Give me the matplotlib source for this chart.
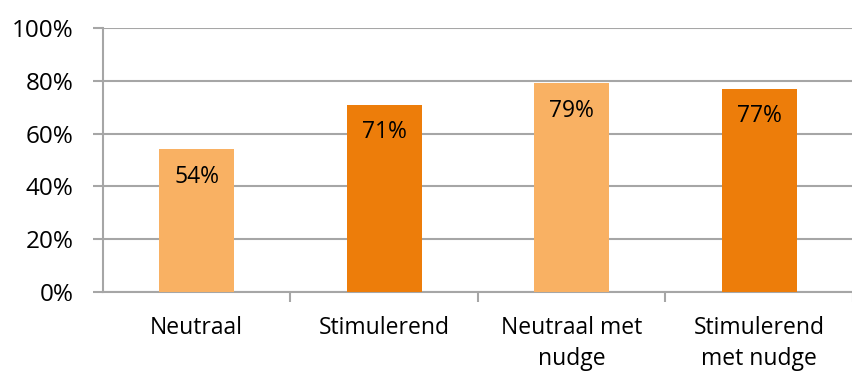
import matplotlib
matplotlib.use('Agg')
from matplotlib import pyplot as plt
from matplotlib.ticker import FuncFormatter

categories = ['Neutraal', 'Stimulerend', 'Neutraal met\nnudge', 'Stimulerend\nmet nudge']
values = [54, 71, 79, 77]
colors = ['#F9B163', '#ED7D0A', '#F9B163', '#ED7D0A']

plt.rcParams['font.family'] = ['Open Sans', 'DejaVu Sans']
grey = '#A6A6A6'

fig = plt.figure(figsize=(8.53, 3.76), dpi=100)
ax = fig.add_axes([103 / 853, 1 - 292 / 376, 750 / 853, 264 / 376])

x = range(len(categories))
bars = ax.bar(x, values, width=0.4, color=colors, zorder=3)
for b, v in zip(bars, values):
    ax.annotate(f'{v}%', (b.get_x() + b.get_width() / 2, v),
                xytext=(0, -20), textcoords='offset points',
                ha='center', va='center', fontsize=16.5, color='black', zorder=4)

ax.set_ylim(0, 100)
ax.set_xlim(-0.5, 3.458)
ax.set_yticks(range(0, 101, 20))
ax.yaxis.set_major_formatter(FuncFormatter(lambda v, p: f'{v:.0f}%'))
ax.grid(axis='y', color=grey, linewidth=1.5, zorder=0)

ax.set_xticks(x)
ax.set_xticklabels(categories, fontsize=16.5, linespacing=1.4)
ax.set_xticks([i - 0.5 for i in range(1, 5)], minor=True)
ax.tick_params(axis='x', which='major', length=0, pad=17)
ax.tick_params(axis='x', which='minor', length=7, width=1.5, color=grey)
ax.tick_params(axis='y', length=7, width=1.5, color=grey, labelsize=17.5, pad=14)

for s in ['top', 'right']:
    ax.spines[s].set_visible(False)
for s in ['left', 'bottom']:
    ax.spines[s].set_color(grey)
    ax.spines[s].set_linewidth(1.5)

fig.savefig('out.png', dpi=100)
